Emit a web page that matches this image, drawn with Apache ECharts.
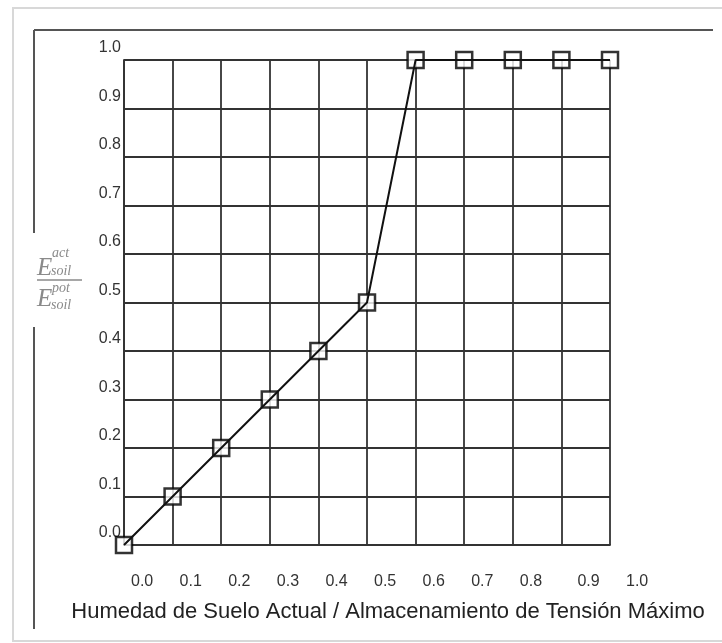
<!DOCTYPE html>
<html>
<head>
<meta charset="utf-8">
<script src="https://cdn.jsdelivr.net/npm/echarts@6/dist/echarts.min.js"></script>
<style>
html,body{margin:0;padding:0;background:#fff;}
#chart{width:722px;height:643px;}
</style>
</head>
<body>
<div id="chart"></div>
<script>
var xValues = [0.0, 0.1, 0.2, 0.3, 0.4, 0.5, 0.6, 0.7, 0.8, 0.9, 1.0];
var yValues = [0.0, 0.1, 0.2, 0.3, 0.4, 0.5, 1.0, 1.0, 1.0, 1.0, 1.0];
var xTickLabels = ['0.0','0.1','0.2','0.3','0.4','0.5','0.6','0.7','0.8','0.9','1.0'];
var yTickLabels = ['0.0','0.1','0.2','0.3','0.4','0.5','0.6','0.7','0.8','0.9','1.0'];
var xAxisTitle = 'Humedad de Suelo Actual / Almacenamiento de Tensión Máximo';

var points = xValues.map(function (x, i) { return [x, yValues[i]]; });

var chart = echarts.init(document.getElementById('chart'), null, {renderer: 'canvas'});
var gridColor = '#333';
var labelFont = 'Liberation Sans, Arial, sans-serif';
var serif = 'Liberation Serif, Times New Roman, serif';

var option = {
  backgroundColor: '#fff',
  animation: false,
  grid: {left: 124, right: 112, top: 60, bottom: 98, containLabel: false},
  xAxis: {
    type: 'value', min: 0, max: 1, interval: 0.1,
    axisLine: {show: true, lineStyle: {color: gridColor, width: 1.8}},
    axisTick: {show: false},
    splitLine: {show: true, lineStyle: {color: gridColor, width: 1.8}},
    axisLabel: {
      margin: 29, showMinLabel: true, showMaxLabel: true, hideOverlap: false,
      align: 'left',
      color: '#333', fontFamily: labelFont, fontSize: 16, lineHeight: 16,
      formatter: function (v) {
        var i = Math.round(v * 10);
        var t = xTickLabels[i];
        return (i >= 9 ? '{b|' : '{a|') + t + '}';
      },
      rich: {
        a: {padding: [0, 0, 0, 7], color: '#333', fontFamily: labelFont, fontSize: 16},
        b: {padding: [0, 0, 0, 16], color: '#333', fontFamily: labelFont, fontSize: 16}
      }
    },
    name: xAxisTitle,
    nameLocation: 'middle',
    nameGap: 56,
    nameTextStyle: {color: '#222', fontFamily: labelFont, fontSize: 22, padding: [0, 0, 0, 42]}
  },
  yAxis: {
    type: 'value', min: 0, max: 1, interval: 0.1,
    axisLine: {show: true, lineStyle: {color: gridColor, width: 1.8}},
    axisTick: {show: false},
    splitLine: {show: true, lineStyle: {color: gridColor, width: 1.8}},
    axisLabel: {
      margin: 3, showMinLabel: true, showMaxLabel: true,
      color: '#333', fontFamily: labelFont, fontSize: 16,
      formatter: function (v) { return '{u|' + yTickLabels[Math.round(v * 10)] + '}'; },
      rich: {
        u: {padding: [0, 0, 24, 0], lineHeight: 16, color: '#333', fontFamily: labelFont, fontSize: 16}
      }
    }
  },
  series: [
    {
      type: 'scatter',
      data: points,
      symbol: 'rect',
      symbolSize: 16,
      itemStyle: {color: '#fff', borderColor: '#000', borderWidth: 2.5},
      z: 3
    },
    {
      type: 'line',
      data: points,
      showSymbol: false,
      symbol: 'none',
      lineStyle: {color: '#111', width: 2},
      z: 4
    }
  ],
  graphic: [
    {type: 'rect', shape: {x: 13, y: 8, width: 760, height: 633}, style: {fill: 'none', stroke: '#d8d8d8', lineWidth: 2}, silent: true, z: -1},
    {type: 'line', shape: {x1: 34, y1: 30, x2: 713, y2: 30}, style: {stroke: '#555', lineWidth: 2}, silent: true},
    {type: 'line', shape: {x1: 34, y1: 30, x2: 34, y2: 233}, style: {stroke: '#555', lineWidth: 2}, silent: true},
    {type: 'line', shape: {x1: 34, y1: 327, x2: 34, y2: 629}, style: {stroke: '#555', lineWidth: 2}, silent: true},
    {type: 'text', left: 37, top: 256, style: {text: 'E', fill: '#8a8a8a', font: 'italic 25px ' + serif}, silent: true},
    {type: 'text', left: 52, top: 246, style: {text: 'act', fill: '#8a8a8a', font: 'italic 14px ' + serif}, silent: true},
    {type: 'text', left: 51, top: 264, style: {text: 'soil', fill: '#8a8a8a', font: 'italic 14px ' + serif}, silent: true},
    {type: 'line', shape: {x1: 37, y1: 280, x2: 82, y2: 280}, style: {stroke: '#8a8a8a', lineWidth: 1.5}, silent: true},
    {type: 'text', left: 37, top: 287, style: {text: 'E', fill: '#8a8a8a', font: 'italic 25px ' + serif}, silent: true},
    {type: 'text', left: 52, top: 281, style: {text: 'pot', fill: '#8a8a8a', font: 'italic 14px ' + serif}, silent: true},
    {type: 'text', left: 51, top: 298, style: {text: 'soil', fill: '#8a8a8a', font: 'italic 14px ' + serif}, silent: true}
  ]
};
chart.setOption(option);
</script>
</body>
</html>
